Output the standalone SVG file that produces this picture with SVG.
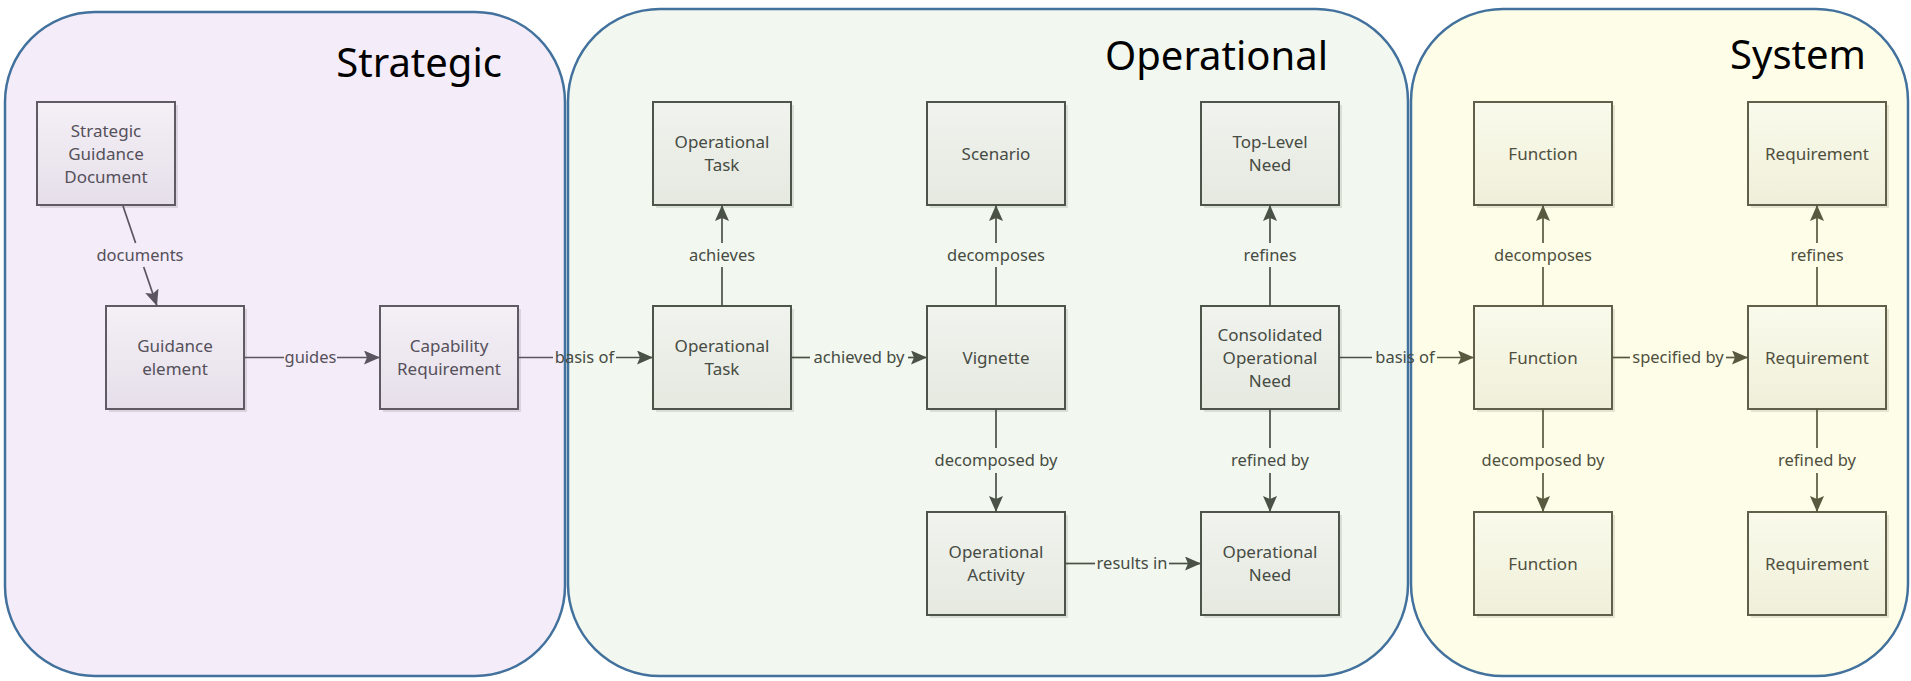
<svg xmlns="http://www.w3.org/2000/svg" width="1911" height="681" viewBox="0 0 1911 681">
<style>
  .panel { stroke: #41719c; stroke-width: 2.5; }
  .title { font-family: "Noto Sans", "Open Sans", sans-serif; font-size: 40px; fill: #000; }
  .ntext { font-family: "Noto Sans", "Open Sans", sans-serif; font-size: 17px; text-anchor: middle; }
  .ltext { font-family: "Noto Sans", "Open Sans", sans-serif; font-size: 16.5px; text-anchor: middle; }
  .shadow { fill: #000; opacity: 0.10; }
  .ns rect.box { fill: url(#gs); stroke: #5f5a63; stroke-width: 2; }
  .no rect.box { fill: url(#go); stroke: #4d5449; stroke-width: 2; }
  .ny rect.box { fill: url(#gy); stroke: #5f5f4a; stroke-width: 2; }
  .ns text { fill: #55505a; }
  .no text { fill: #464b43; }
  .ny text { fill: #4f4f3e; }
  .cs { stroke: #5a5560; stroke-width: 1.7; fill: none; }
  .co { stroke: #4a5147; stroke-width: 1.7; fill: none; }
  .cy { stroke: #59593f; stroke-width: 1.7; fill: none; }
  .cs.a { marker-end: url(#ms); }
  .co.a { marker-end: url(#mo); }
  .cy.a { marker-end: url(#my); }
  .ls { fill: #55505a; }
  .lo { fill: #464b43; }
  .ly { fill: #4f4f3e; }
</style>
<defs>
  <linearGradient id="gs" x1="0" y1="0" x2="0" y2="1">
    <stop offset="0" stop-color="#f4f0f6"/>
    <stop offset="1" stop-color="#e6dfea"/>
  </linearGradient>
  <linearGradient id="go" x1="0" y1="0" x2="0" y2="1">
    <stop offset="0" stop-color="#f1f3ee"/>
    <stop offset="1" stop-color="#e5e9e0"/>
  </linearGradient>
  <linearGradient id="gy" x1="0" y1="0" x2="0" y2="1">
    <stop offset="0" stop-color="#fafaec"/>
    <stop offset="1" stop-color="#efefd9"/>
  </linearGradient>
  <marker id="ms" viewBox="0 0 16 14" refX="16" refY="7" markerWidth="16" markerHeight="14" markerUnits="userSpaceOnUse" orient="auto">
    <path d="M0,0 L16,7 L0,14 L3,7 z" fill="#5a5560"/>
  </marker>
  <marker id="mo" viewBox="0 0 16 14" refX="16" refY="7" markerWidth="16" markerHeight="14" markerUnits="userSpaceOnUse" orient="auto">
    <path d="M0,0 L16,7 L0,14 L3,7 z" fill="#4a5147"/>
  </marker>
  <marker id="my" viewBox="0 0 16 14" refX="16" refY="7" markerWidth="16" markerHeight="14" markerUnits="userSpaceOnUse" orient="auto">
    <path d="M0,0 L16,7 L0,14 L3,7 z" fill="#59593f"/>
  </marker>
</defs>

<g id="panels">
  <g id="panel-strategic">
    <rect class="panel" x="5" y="12" width="560" height="664" rx="90" ry="90" fill="#f4ecf8"/>
    <text class="title" x="502" y="77" text-anchor="end">Strategic</text>
  </g>
  <g id="panel-operational">
    <rect class="panel" x="568" y="9" width="840" height="667" rx="92" ry="92" fill="#f2f8ef"/>
    <text class="title" x="1328" y="70" text-anchor="end">Operational</text>
  </g>
  <g id="panel-system">
    <rect class="panel" x="1411" y="9" width="497" height="667" rx="92" ry="92" fill="#fefee8"/>
    <text class="title" x="1866" y="69" text-anchor="end">System</text>
  </g>
</g>

<g id="nodes">
  <g id="n-sgd" class="ns">
    <rect class="shadow" x="40" y="105" width="138" height="103"/>
    <rect class="box" x="37" y="102" width="138" height="103"/>
    <text class="ntext" x="106" y="136.5">Strategic</text>
    <text class="ntext" x="106" y="159.5">Guidance</text>
    <text class="ntext" x="106" y="182.5">Document</text>
  </g>
  <g id="n-ge" class="ns">
    <rect class="shadow" x="109" y="309" width="138" height="103"/>
    <rect class="box" x="106" y="306" width="138" height="103"/>
    <text class="ntext" x="175" y="352">Guidance</text>
    <text class="ntext" x="175" y="375">element</text>
  </g>
  <g id="n-cr" class="ns">
    <rect class="shadow" x="383" y="309" width="138" height="103"/>
    <rect class="box" x="380" y="306" width="138" height="103"/>
    <text class="ntext" x="449" y="352">Capability</text>
    <text class="ntext" x="449" y="375">Requirement</text>
  </g>

  <g id="n-ot-top" class="no">
    <rect class="shadow" x="656" y="105" width="138" height="103"/>
    <rect class="box" x="653" y="102" width="138" height="103"/>
    <text class="ntext" x="722" y="148">Operational</text>
    <text class="ntext" x="722" y="171">Task</text>
  </g>
  <g id="n-ot" class="no">
    <rect class="shadow" x="656" y="309" width="138" height="103"/>
    <rect class="box" x="653" y="306" width="138" height="103"/>
    <text class="ntext" x="722" y="352">Operational</text>
    <text class="ntext" x="722" y="375">Task</text>
  </g>
  <g id="n-scen" class="no">
    <rect class="shadow" x="930" y="105" width="138" height="103"/>
    <rect class="box" x="927" y="102" width="138" height="103"/>
    <text class="ntext" x="996" y="159.5">Scenario</text>
  </g>
  <g id="n-vig" class="no">
    <rect class="shadow" x="930" y="309" width="138" height="103"/>
    <rect class="box" x="927" y="306" width="138" height="103"/>
    <text class="ntext" x="996" y="363.5">Vignette</text>
  </g>
  <g id="n-oa" class="no">
    <rect class="shadow" x="930" y="515" width="138" height="103"/>
    <rect class="box" x="927" y="512" width="138" height="103"/>
    <text class="ntext" x="996" y="558">Operational</text>
    <text class="ntext" x="996" y="581">Activity</text>
  </g>
  <g id="n-tln" class="no">
    <rect class="shadow" x="1204" y="105" width="138" height="103"/>
    <rect class="box" x="1201" y="102" width="138" height="103"/>
    <text class="ntext" x="1270" y="148">Top-Level</text>
    <text class="ntext" x="1270" y="171">Need</text>
  </g>
  <g id="n-con" class="no">
    <rect class="shadow" x="1204" y="309" width="138" height="103"/>
    <rect class="box" x="1201" y="306" width="138" height="103"/>
    <text class="ntext" x="1270" y="340.5">Consolidated</text>
    <text class="ntext" x="1270" y="363.5">Operational</text>
    <text class="ntext" x="1270" y="386.5">Need</text>
  </g>
  <g id="n-on" class="no">
    <rect class="shadow" x="1204" y="515" width="138" height="103"/>
    <rect class="box" x="1201" y="512" width="138" height="103"/>
    <text class="ntext" x="1270" y="558">Operational</text>
    <text class="ntext" x="1270" y="581">Need</text>
  </g>

  <g id="n-fn-top" class="ny">
    <rect class="shadow" x="1477" y="105" width="138" height="103"/>
    <rect class="box" x="1474" y="102" width="138" height="103"/>
    <text class="ntext" x="1543" y="159.5">Function</text>
  </g>
  <g id="n-fn" class="ny">
    <rect class="shadow" x="1477" y="309" width="138" height="103"/>
    <rect class="box" x="1474" y="306" width="138" height="103"/>
    <text class="ntext" x="1543" y="363.5">Function</text>
  </g>
  <g id="n-fn-bot" class="ny">
    <rect class="shadow" x="1477" y="515" width="138" height="103"/>
    <rect class="box" x="1474" y="512" width="138" height="103"/>
    <text class="ntext" x="1543" y="569.5">Function</text>
  </g>
  <g id="n-rq-top" class="ny">
    <rect class="shadow" x="1751" y="105" width="138" height="103"/>
    <rect class="box" x="1748" y="102" width="138" height="103"/>
    <text class="ntext" x="1817" y="159.5">Requirement</text>
  </g>
  <g id="n-rq" class="ny">
    <rect class="shadow" x="1751" y="309" width="138" height="103"/>
    <rect class="box" x="1748" y="306" width="138" height="103"/>
    <text class="ntext" x="1817" y="363.5">Requirement</text>
  </g>
  <g id="n-rq-bot" class="ny">
    <rect class="shadow" x="1751" y="515" width="138" height="103"/>
    <rect class="box" x="1748" y="512" width="138" height="103"/>
    <text class="ntext" x="1817" y="569.5">Requirement</text>
  </g>
</g>

<g id="connectors">
  <!-- documents -->
  <path class="cs" d="M123,206 L135.6,243"/>
  <path class="cs a" d="M143.7,267 L157,306"/>
  <text class="ltext ls" x="140" y="261">documents</text>
  <!-- guides -->
  <path class="cs" d="M244,357.5 L284,357.5"/>
  <path class="cs a" d="M337,357.5 L380,357.5"/>
  <text class="ltext ls" x="310.5" y="363">guides</text>
  <!-- basis of 1 -->
  <path class="cs" d="M518,357.5 L553,357.5"/>
  <path class="co a" d="M616,357.5 L653,357.5"/>
  <text class="ltext lo" x="584.5" y="363">basis of</text>
  <!-- achieves -->
  <path class="co" d="M722,306 L722,267"/>
  <path class="co a" d="M722,243 L722,205"/>
  <text class="ltext lo" x="722" y="261">achieves</text>
  <!-- achieved by -->
  <path class="co" d="M791,357.5 L810,357.5"/>
  <path class="co a" d="M908,357.5 L927,357.5"/>
  <text class="ltext lo" x="859" y="363">achieved by</text>
  <!-- decomposes (vignette->scenario) -->
  <path class="co" d="M996,306 L996,267"/>
  <path class="co a" d="M996,243 L996,205"/>
  <text class="ltext lo" x="996" y="261">decomposes</text>
  <!-- decomposed by (vignette->activity) -->
  <path class="co" d="M996,409 L996,448"/>
  <path class="co a" d="M996,473 L996,512"/>
  <text class="ltext lo" x="996" y="466">decomposed by</text>
  <!-- results in -->
  <path class="co" d="M1065,563.5 L1095,563.5"/>
  <path class="co a" d="M1169,563.5 L1201,563.5"/>
  <text class="ltext lo" x="1132" y="569">results in</text>
  <!-- refines (consolidated->top-level) -->
  <path class="co" d="M1270,306 L1270,267"/>
  <path class="co a" d="M1270,243 L1270,205"/>
  <text class="ltext lo" x="1270" y="261">refines</text>
  <!-- refined by (consolidated->operational need) -->
  <path class="co" d="M1270,409 L1270,448"/>
  <path class="co a" d="M1270,473 L1270,512"/>
  <text class="ltext lo" x="1270" y="466">refined by</text>
  <!-- basis of 2 -->
  <path class="co" d="M1339,357.5 L1372,357.5"/>
  <path class="cy a" d="M1437,357.5 L1474,357.5"/>
  <text class="ltext lo" x="1405" y="363">basis of</text>
  <!-- decomposes (function) -->
  <path class="cy" d="M1543,306 L1543,267"/>
  <path class="cy a" d="M1543,243 L1543,205"/>
  <text class="ltext ly" x="1543" y="261">decomposes</text>
  <!-- decomposed by (function) -->
  <path class="cy" d="M1543,409 L1543,448"/>
  <path class="cy a" d="M1543,473 L1543,512"/>
  <text class="ltext ly" x="1543" y="466">decomposed by</text>
  <!-- specified by -->
  <path class="cy" d="M1612,357.5 L1630,357.5"/>
  <path class="cy a" d="M1726,357.5 L1748,357.5"/>
  <text class="ltext ly" x="1678" y="363">specified by</text>
  <!-- refines (requirement) -->
  <path class="cy" d="M1817,306 L1817,267"/>
  <path class="cy a" d="M1817,243 L1817,205"/>
  <text class="ltext ly" x="1817" y="261">refines</text>
  <!-- refined by (requirement) -->
  <path class="cy" d="M1817,409 L1817,448"/>
  <path class="cy a" d="M1817,473 L1817,512"/>
  <text class="ltext ly" x="1817" y="466">refined by</text>
</g>
</svg>
